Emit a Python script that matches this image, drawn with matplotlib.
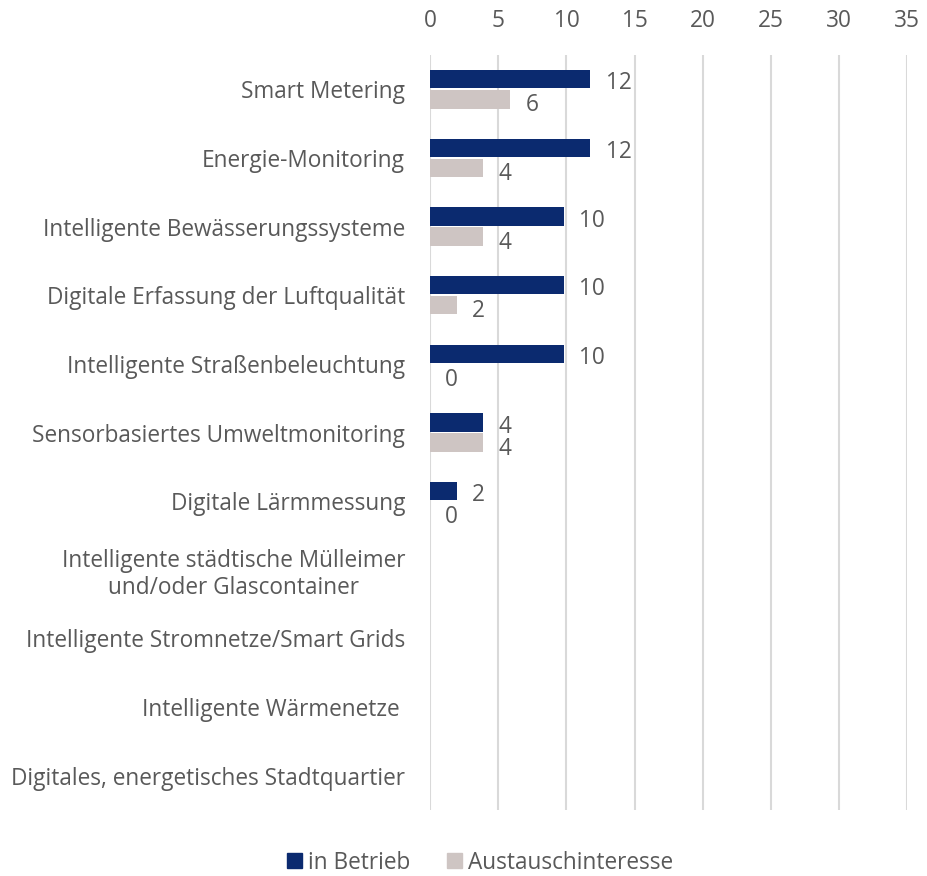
import numpy as np
import matplotlib
matplotlib.use("Agg")
import matplotlib.pyplot as plt
from matplotlib.patches import Patch

plt.rcParams['font.family'] = ['Open Sans', 'DejaVu Sans']

# Kategorien (von oben nach unten)
categories = [
    "Smart Metering",
    "Energie-Monitoring",
    "Intelligente Bewässerungssysteme",
    "Digitale Erfassung der Luftqualität",
    "Intelligente Straßenbeleuchtung",
    "Sensorbasiertes Umweltmonitoring",
    "Digitale Lärmmessung",
    "Intelligente städtische Mülleimer\nund/oder Glascontainer",
    "Intelligente Stromnetze/Smart Grids",
    "Intelligente Wärmenetze ",
    "Digitales, energetisches Stadtquartier",
]

# Werte in Prozent (Beschriftung gerundet)
in_betrieb = [11.76, 11.76, 9.80, 9.80, 9.80, 3.92, 1.96, None, None, None, None]
austausch = [5.88, 3.92, 3.92, 1.96, 0.0, 3.92, 0.0, None, None, None, None]

xticks = [0, 5, 10, 15, 20, 25, 30, 35]

navy = "#0B2A6F"
grey = "#CEC5C3"
text_col = "#595959"
fs = 16.3

fig = plt.figure(figsize=(9.27, 8.76), dpi=100)
ax = fig.add_axes([0.4639, 0.0753, 0.5149, 0.8619])

y = np.arange(len(categories))
h = 0.267
off = 0.146

for i in range(len(categories)):
    if in_betrieb[i] is not None:
        ax.barh(y[i] - off, in_betrieb[i], height=h, color=navy, linewidth=0, zorder=3)
        ax.annotate("%.0f" % in_betrieb[i], (in_betrieb[i], y[i] - off), xytext=(11, -0.8),
                    textcoords="offset points", ha="left", va="center_baseline", fontsize=fs, color=text_col)
    if austausch[i] is not None:
        ax.barh(y[i] + off, austausch[i], height=h, color=grey, linewidth=0, zorder=3)
        ax.annotate("%.0f" % austausch[i], (austausch[i], y[i] + off), xytext=(11, -2.2),
                    textcoords="offset points", ha="left", va="center_baseline", fontsize=fs, color=text_col)

ax.set_xlim(0, 35)
ax.set_ylim(len(categories) - 0.5, -0.5)
ax.set_xticks(xticks)
ax.xaxis.tick_top()
ax.set_yticks(y)
ax.set_yticklabels(categories, ha="right")
ax.tick_params(axis="x", length=0, pad=16, labelsize=fs, labelcolor=text_col)
ax.tick_params(axis="y", length=0, pad=18, labelsize=fs, labelcolor=text_col)
for lab in ax.get_yticklabels():
    lab.set_multialignment("center")

ax.grid(axis="x", color="#D9D9D9", linewidth=1.5, zorder=0)
for s in ax.spines.values():
    s.set_visible(False)

handles = [Patch(color=navy, label="in Betrieb"), Patch(color=grey, label="Austauschinteresse")]
fig.legend(handles=handles, loc="center", bbox_to_anchor=(0.518, 0.015), ncol=2, frameon=False,
           fontsize=fs, labelcolor=text_col, handlelength=0.65, handleheight=0.65,
           handletextpad=0.3, columnspacing=1.6)

fig.savefig("out.png", dpi=100)
